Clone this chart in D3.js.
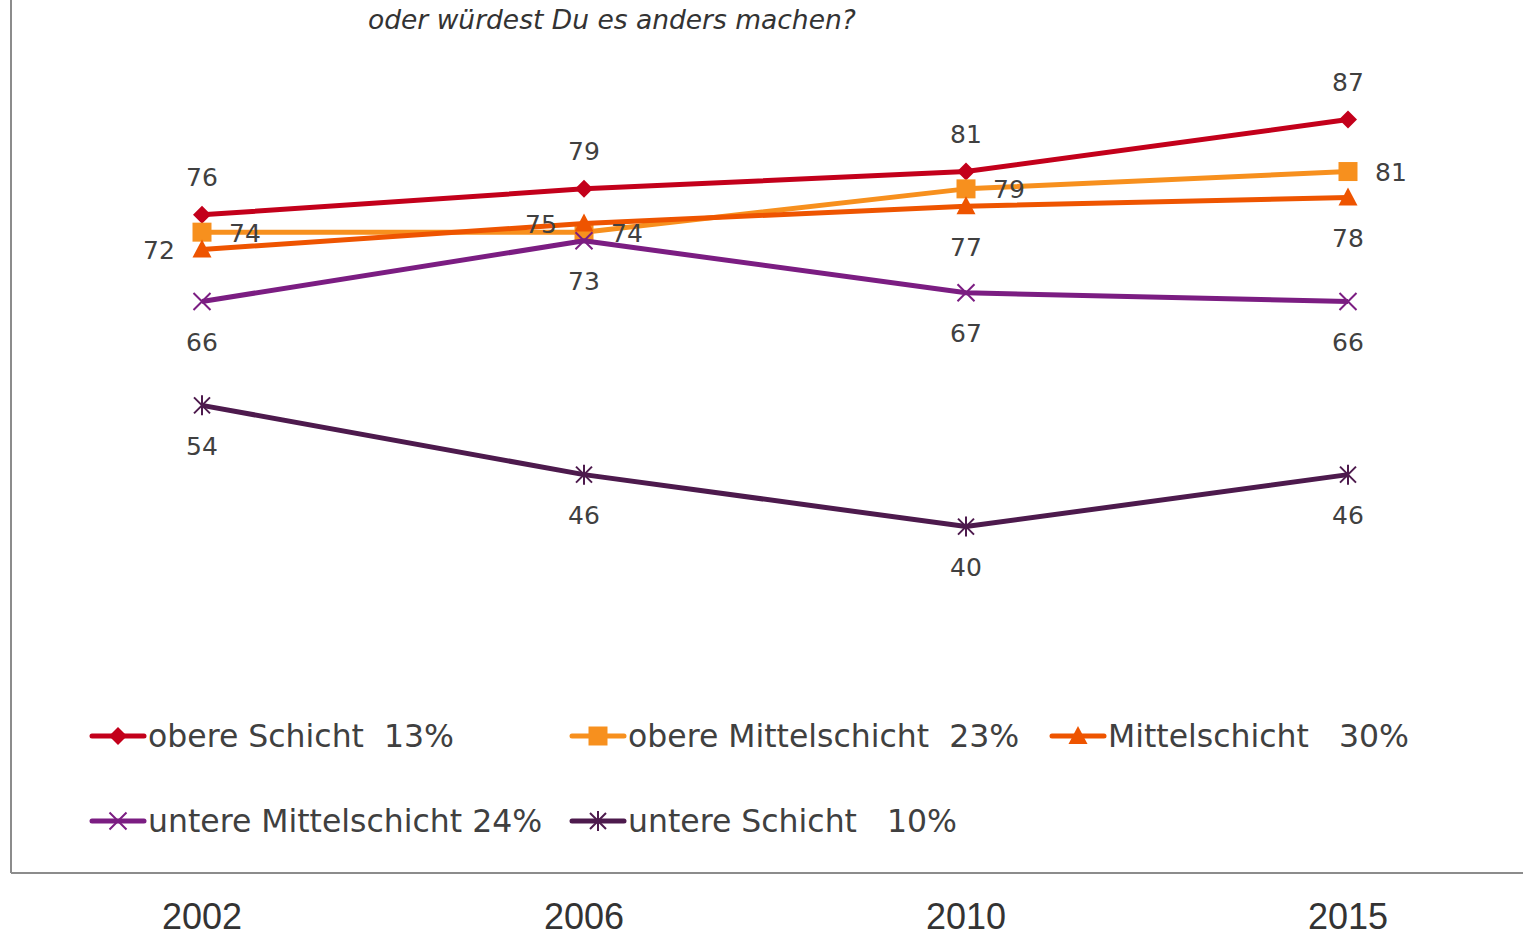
<!DOCTYPE html>
<html>
<head>
<meta charset="utf-8">
<script src="https://cdn.jsdelivr.net/npm/d3@7"></script>
<style>
  body { margin: 0; background: #fff; }
  svg { display: block; }
  text { font-family: "DejaVu Sans", Verdana, sans-serif; fill: #404040; }
</style>
</head>
<body>
<div class="chart"></div>
<script>
// data
var years = ["2002", "2006", "2010", "2015"];
var seriesNames = ["obere Schicht", "obere Mittelschicht", "Mittelschicht", "untere Mittelschicht", "untere Schicht"];
var legendLabels = ["obere Schicht  13%", "obere Mittelschicht  23%", "Mittelschicht   30%", "untere Mittelschicht 24%", "untere Schicht   10%"];
var obereSchicht = [76, 79, 81, 87];
var obereMittel = [74, 74, 79, 81];
var mittel = [72, 75, 77, 78];
var untereMittel = [66, 73, 67, 66];
var untereSchicht = [54, 46, 40, 46];
// where the value label sits relative to the point
var obereSchichtPos = ["above", "above", "above", "above"];
var obereMittelPos = ["right", "right", "right", "right"];
var mittelPos = ["left", "left", "below", "below"];
var untereMittelPos = ["below", "below", "below", "below"];
var untereSchichtPos = ["below", "below", "below", "below"];

var colors = ["#c3001b", "#f7901e", "#ee5400", "#7b1d82", "#4d1a4d"];
var markers = ["diamond", "square", "triangle", "cross", "star"];

function wrapper(){

var w = 1523, h = 931;

var svg = d3.select("div.chart")
            .append("svg")
            .attr("width", w)
            .attr("height", h);

var allValues = [obereSchicht, obereMittel, mittel, untereMittel, untereSchicht];
var allPos = [obereSchichtPos, obereMittelPos, mittelPos, untereMittelPos, untereSchichtPos];

//scales
var x = d3.scaleBand()
          .domain(years)
          .range([11, 1539]);

var y = d3.scaleLinear()
          .domain([0, 100])
          .range([873, 7]);

//marker path generator
function markerPath(type, cx, cy){
  var p = d3.path();
  if(type == "diamond"){
    var r = 9;
    p.moveTo(cx, cy - r); p.lineTo(cx + r, cy); p.lineTo(cx, cy + r); p.lineTo(cx - r, cy); p.closePath();
  } else if(type == "square"){
    var s = 9.5;
    p.rect(cx - s, cy - s, 2 * s, 2 * s);
  } else if(type == "triangle"){
    p.moveTo(cx, cy - 10); p.lineTo(cx + 9.5, cy + 8); p.lineTo(cx - 9.5, cy + 8); p.closePath();
  } else if(type == "cross"){
    var c = 8.5;
    p.moveTo(cx - c, cy - c); p.lineTo(cx + c, cy + c);
    p.moveTo(cx + c, cy - c); p.lineTo(cx - c, cy + c);
  } else if(type == "star"){
    var c2 = 8;
    p.moveTo(cx - c2, cy - c2); p.lineTo(cx + c2, cy + c2);
    p.moveTo(cx + c2, cy - c2); p.lineTo(cx - c2, cy + c2);
    p.moveTo(cx, cy - 10); p.lineTo(cx, cy + 10);
  }
  return p.toString();
}

function isFilled(type){
  return type == "diamond" || type == "square" || type == "triangle";
}

//axes lines
svg.append("line")
   .attr("x1", 11).attr("x2", 11)
   .attr("y1", 0).attr("y2", y(0))
   .attr("stroke", "#8c8c8c").attr("stroke-width", 2);

var xAxis = svg.append("g")
               .attr("transform", "translate(0," + y(0) + ")")
               .call(d3.axisBottom(x).tickSize(0).tickPadding(30));
xAxis.select(".domain").attr("stroke", "#8c8c8c").attr("stroke-width", 2).attr("d", "M11,0H1523");
xAxis.selectAll("text")
     .style("font-family", "'Liberation Sans', Arial, sans-serif")
     .style("font-size", "36px")
     .style("fill", "#333");

//question text (partly cut off at the top)
svg.append("text")
   .attr("x", 368)
   .attr("y", 29)
   .style("font-size", "26.5px")
   .style("font-style", "italic")
   .style("fill", "#333")
   .text("oder würdest Du es anders machen?");

var line = d3.line()
             .x(function(d, i){ return x(years[i]) + x.bandwidth() / 2; })
             .y(function(d){ return y(d); });

//lines and markers
allValues.forEach(function(vals, si){
  var g = svg.append("g").attr("class", "series");
  g.append("path")
   .attr("d", line(vals))
   .attr("fill", "none")
   .attr("stroke", colors[si])
   .attr("stroke-width", 5)
   .attr("stroke-linejoin", "round");

  g.selectAll(".marker")
   .data(vals)
   .enter()
   .append("path")
      .attr("d", function(d, i){ return markerPath(markers[si], x(years[i]) + x.bandwidth() / 2, y(d)); })
      .attr("fill", isFilled(markers[si]) ? colors[si] : "none")
      .attr("stroke", isFilled(markers[si]) ? "none" : colors[si])
      .attr("stroke-width", 2);
});

//value labels
allValues.forEach(function(vals, si){
  svg.selectAll(".lbl" + si)
     .data(vals)
     .enter()
     .append("text")
        .attr("x", function(d, i){
          var cx = x(years[i]) + x.bandwidth() / 2;
          var pos = allPos[si][i];
          if(pos == "right") return cx + 43;
          if(pos == "left") return cx - 43;
          return cx;
        })
        .attr("y", function(d, i){
          var pos = allPos[si][i];
          if(pos == "above") return y(d) - 37;
          if(pos == "below") return y(d) + 41;
          return y(d) + 1;
        })
        .attr("text-anchor", "middle")
        .attr("dominant-baseline", "central")
        .style("font-size", "25px")
        .text(function(d){ return d; });
});

//legend
var legendX = [90, 570, 1050, 90, 570];
var legendY = [736, 736, 736, 821, 821];

var legend = svg.selectAll(".legend")
                .data(seriesNames)
                .enter()
                .append("g")
                   .attr("class", "legend")
                   .attr("transform", function(d, i){ return "translate(" + legendX[i] + "," + legendY[i] + ")"; });

legend.append("line")
      .attr("x1", 2).attr("x2", 54)
      .attr("y1", 0).attr("y2", 0)
      .attr("stroke", function(d, i){ return colors[i]; })
      .attr("stroke-width", 5)
      .attr("stroke-linecap", "round");

legend.append("path")
      .attr("d", function(d, i){ return markerPath(markers[i], 28, 0); })
      .attr("fill", function(d, i){ return isFilled(markers[i]) ? colors[i] : "none"; })
      .attr("stroke", function(d, i){ return isFilled(markers[i]) ? "none" : colors[i]; })
      .attr("stroke-width", 2);

legend.append("text")
      .attr("x", 58)
      .attr("y", 0)
      .attr("dominant-baseline", "central")
      .style("font-size", "31.5px")
      .style("white-space", "pre")
      .attr("xml:space", "preserve")
      .text(function(d, i){ return legendLabels[i]; });

}
window.onload = wrapper;
</script>
</body>
</html>
